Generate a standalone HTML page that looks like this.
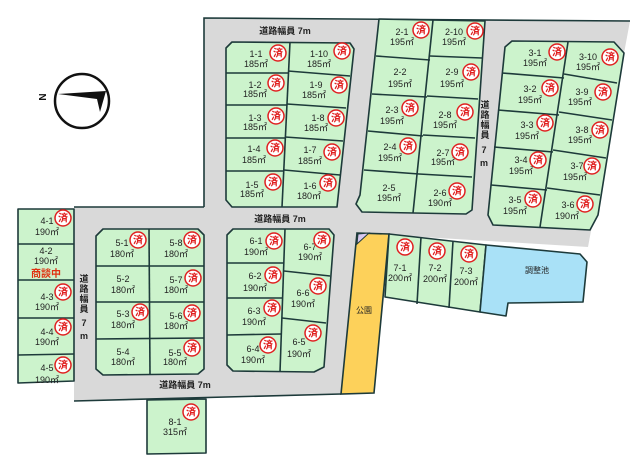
<!DOCTYPE html>
<html><head><meta charset="utf-8"><style>
html,body{margin:0;padding:0;background:#fff;}
svg{display:block;}
text{font-family:"Liberation Sans","Noto Sans CJK JP",sans-serif;}
.l{font-size:9px;fill:#222;text-anchor:middle;}
.r{font-size:9px;fill:#222;text-anchor:middle;font-weight:bold;}
.g{fill:#ccf3cc;stroke:#1d3a3a;stroke-width:1.6;stroke-linejoin:round;}
.ln{stroke:#1d3a3a;stroke-width:1.6;fill:none;}
.st circle{fill:#fff;stroke:#e02020;stroke-width:1.5;}
.st text{font-size:10px;fill:#e02020;text-anchor:middle;font-weight:bold;}
</style></head><body>
<svg width="640" height="462" viewBox="0 0 640 462" xmlns="http://www.w3.org/2000/svg">
<defs>
<g id="s" class="st"><circle cx="0" cy="0" r="8"/><text x="0" y="3.5">済</text></g>
</defs>
<!-- road -->
<polygon points="204,18 630,21 588,247 357,233 341,394 74,401 74,207 204,207" fill="#d9d9d9"/>
<polyline points="204,207 204,18 630,21" class="ln" stroke-width="2"/>
<line x1="74" y1="207" x2="204" y2="207" class="ln" stroke-width="2"/>
<line x1="74" y1="401" x2="341" y2="394" class="ln" stroke-width="2"/>

<!-- compass -->
<circle cx="82" cy="101" r="27" fill="none" stroke="#111" stroke-width="2.5"/>
<polygon points="58,94 106,91 100,112 97,99" fill="#111"/>
<text x="46" y="97" font-size="10" font-weight="bold" fill="#111" text-anchor="middle" transform="rotate(-90 46 97)">N</text>

<!-- road labels -->
<text x="285" y="34" font-size="9" fill="#222" font-weight="bold" text-anchor="middle">道路幅員 7m</text>
<text x="280" y="222" font-size="9" fill="#222" font-weight="bold" text-anchor="middle">道路幅員 7m</text>
<text x="185" y="388" font-size="9" fill="#222" font-weight="bold" text-anchor="middle">道路幅員 7m</text>
<g font-size="9" fill="#222" font-weight="bold" text-anchor="middle">
<text x="485" y="108">道</text><text x="485" y="118">路</text><text x="485" y="128">幅</text><text x="485" y="138">員</text><text x="484" y="153">7</text><text x="484" y="166">m</text>
<text x="84" y="282">道</text><text x="84" y="292">路</text><text x="84" y="302">幅</text><text x="84" y="312">員</text><text x="84" y="326">7</text><text x="84" y="339">m</text>
</g>

<!-- block 1 -->
<polygon class="g" points="232,42 350,43 354,49 337,207 232,207 226,200 226,48"/>
<g class="ln"><line x1="290" y1="42" x2="282" y2="207"/>
<line x1="226" y1="73" x2="288" y2="73"/><line x1="288" y1="71" x2="350" y2="76"/>
<line x1="226" y1="105" x2="287" y2="105"/><line x1="287" y1="104" x2="346" y2="108"/>
<line x1="226" y1="138" x2="285" y2="138"/><line x1="285" y1="137" x2="343" y2="141"/>
<line x1="226" y1="171" x2="284" y2="171"/><line x1="284" y1="170" x2="340" y2="175"/></g>
<!-- block 2 -->
<polygon class="g" points="379,19 485,21 472,210 466,214 362,212 356,204 360,195"/>
<g class="ln"><line x1="433" y1="20" x2="413" y2="213"/>
<line x1="376" y1="56" x2="430" y2="60"/><line x1="430" y1="56" x2="482" y2="58"/>
<line x1="372" y1="94" x2="427" y2="97"/><line x1="427" y1="96" x2="478" y2="99"/>
<line x1="368" y1="131" x2="423" y2="136"/><line x1="423" y1="135" x2="475" y2="138"/>
<line x1="364" y1="170" x2="419" y2="174"/><line x1="419" y1="174" x2="472" y2="177"/></g>
<!-- block 3 -->
<polygon class="g" points="512,41 614,42 624,53 598,215 590,230 493,225 488,215 505,47"/>
<g class="ln"><line x1="568" y1="42" x2="540" y2="227"/>
<line x1="502" y1="73" x2="564" y2="78"/><line x1="564" y1="74" x2="617" y2="83"/>
<line x1="498" y1="110" x2="559" y2="115"/><line x1="559" y1="112" x2="612" y2="120"/>
<line x1="494" y1="147" x2="553" y2="152"/><line x1="553" y1="150" x2="606" y2="158"/>
<line x1="491" y1="185" x2="547" y2="190"/><line x1="547" y1="188" x2="600" y2="195"/></g>
<!-- block 4 -->
<polygon class="g" points="18,209 74,209 74,381 18,383"/>
<g class="ln"><line x1="18" y1="244" x2="74" y2="244"/><line x1="18" y1="280" x2="74" y2="280"/><line x1="18" y1="318" x2="74" y2="318"/><line x1="18" y1="355" x2="74" y2="354"/></g>
<!-- block 5 -->
<polygon class="g" points="103,229 198,229 204,235 204,369 198,374 103,375 96,369 96,236"/>
<g class="ln"><line x1="149" y1="229" x2="150" y2="375"/>
<line x1="96" y1="266" x2="204" y2="266"/><line x1="96" y1="302" x2="204" y2="302"/><line x1="96" y1="339" x2="204" y2="338"/></g>
<!-- block 6 -->
<polygon class="g" points="233,229 329,229 334,235 324,367 314,372 233,371 227,365 227,235"/>
<g class="ln"><line x1="285" y1="229" x2="280" y2="372"/>
<line x1="227" y1="263" x2="284" y2="263"/><line x1="227" y1="298" x2="282" y2="298"/><line x1="227" y1="335" x2="281" y2="334"/>
<line x1="284" y1="271" x2="330" y2="276"/><line x1="282" y1="318" x2="326" y2="323"/></g>
<!-- 8-1 -->
<polygon class="g" points="147,400 206,399 206,453 147,454"/>
<!-- park -->
<polygon points="357,233 389,234 374,393 341,394" fill="#fdd15a" stroke="#1d3a3a" stroke-width="1.6"/>
<polygon points="358,234 369,233 357,244" fill="#d8c8f0" stroke="#1d3a3a" stroke-width="1"/>
<text x="364" y="313" font-size="8" fill="#222" text-anchor="middle">公園</text>
<!-- 7 lots -->
<polygon class="g" points="389,234 486,245 480,312 385,297"/>
<g class="ln"><line x1="421" y1="237" x2="417" y2="304"/><line x1="453" y1="241" x2="449" y2="308"/></g>
<!-- pond -->
<polygon points="486,245 580,254 587,262 583,302 508,303 506,316 480,312" fill="#a9e1f7" stroke="#1d3a3a" stroke-width="1.6" stroke-linejoin="round"/>
<text x="537" y="273" font-size="8" fill="#222" text-anchor="middle">調整池</text>

<!-- labels -->
<g class="l">
<text x="256" y="57">1-1</text><text x="256" y="67">185㎡</text>
<text x="319" y="57">1-10</text><text x="319" y="67">185㎡</text>
<text x="255" y="88">1-2</text><text x="255" y="97">185㎡</text>
<text x="316" y="88">1-9</text><text x="314" y="98">185㎡</text>
<text x="255" y="121">1-3</text><text x="255" y="130">185㎡</text>
<text x="318" y="121">1-8</text><text x="316" y="131">185㎡</text>
<text x="254" y="152">1-4</text><text x="254" y="163">185㎡</text>
<text x="310" y="153">1-7</text><text x="310" y="164">185㎡</text>
<text x="252" y="188">1-5</text><text x="252" y="197">185㎡</text>
<text x="310" y="189">1-6</text><text x="309" y="199">180㎡</text>

<text x="402" y="35">2-1</text><text x="402" y="45">195㎡</text>
<text x="454" y="35">2-10</text><text x="454" y="45">195㎡</text>
<text x="400" y="75">2-2</text><text x="400" y="87">195㎡</text>
<text x="452" y="75">2-9</text><text x="452" y="87">195㎡</text>
<text x="392" y="113">2-3</text><text x="392" y="124">195㎡</text>
<text x="445" y="118">2-8</text><text x="445" y="128">195㎡</text>
<text x="390" y="150">2-4</text><text x="390" y="161">195㎡</text>
<text x="443" y="156">2-7</text><text x="443" y="165">195㎡</text>
<text x="389" y="191">2-5</text><text x="389" y="201">195㎡</text>
<text x="440" y="196">2-6</text><text x="440" y="206">190㎡</text>

<text x="535" y="56">3-1</text><text x="535" y="66">195㎡</text>
<text x="588" y="60">3-10</text><text x="588" y="70">195㎡</text>
<text x="530" y="92">3-2</text><text x="530" y="103">195㎡</text>
<text x="582" y="95">3-9</text><text x="580" y="105">195㎡</text>
<text x="527" y="128">3-3</text><text x="527" y="139">195㎡</text>
<text x="582" y="133">3-8</text><text x="580" y="143">195㎡</text>
<text x="521" y="163">3-4</text><text x="521" y="174">195㎡</text>
<text x="577" y="169">3-7</text><text x="575" y="180">195㎡</text>
<text x="515" y="203">3-5</text><text x="515" y="214">195㎡</text>
<text x="568" y="208">3-6</text><text x="567" y="219">190㎡</text>

<text x="47" y="224">4-1</text><text x="47" y="235">190㎡</text>
<text x="46" y="254">4-2</text><text x="46" y="264">190㎡</text>
<text x="47" y="300">4-3</text><text x="47" y="310">190㎡</text>
<text x="47" y="335">4-4</text><text x="47" y="345">190㎡</text>
<text x="47" y="371">4-5</text><text x="47" y="383">190㎡</text>

<text x="122" y="246">5-1</text><text x="122" y="257">180㎡</text>
<text x="176" y="246">5-8</text><text x="176" y="257">180㎡</text>
<text x="123" y="282">5-2</text><text x="123" y="293">180㎡</text>
<text x="176" y="283">5-7</text><text x="176" y="293">180㎡</text>
<text x="123" y="317">5-3</text><text x="123" y="328">180㎡</text>
<text x="176" y="319">5-6</text><text x="176" y="329">180㎡</text>
<text x="123" y="355">5-4</text><text x="123" y="365">180㎡</text>
<text x="175" y="356">5-5</text><text x="175" y="365">180㎡</text>

<text x="256" y="244">6-1</text><text x="256" y="255">190㎡</text>
<text x="310" y="250">6-7</text><text x="310" y="260">190㎡</text>
<text x="255" y="279">6-2</text><text x="255" y="291">190㎡</text>
<text x="303" y="296">6-6</text><text x="303" y="307">190㎡</text>
<text x="254" y="314">6-3</text><text x="254" y="325">190㎡</text>
<text x="299" y="345">6-5</text><text x="299" y="357">190㎡</text>
<text x="253" y="352">6-4</text><text x="253" y="363">190㎡</text>

<text x="175" y="425">8-1</text><text x="175" y="435">315㎡</text>
<text x="400" y="271">7-1</text><text x="400" y="281">200㎡</text>
<text x="435" y="271">7-2</text><text x="435" y="282">200㎡</text>
<text x="466" y="274">7-3</text><text x="466" y="285">200㎡</text>
</g>
<text x="46" y="277" font-size="10" font-weight="bold" fill="#e03010" text-anchor="middle">商談中</text>

<!-- stamps -->
<use href="#s" x="278" y="53"/><use href="#s" x="342" y="51"/>
<use href="#s" x="276" y="83"/><use href="#s" x="339" y="85"/>
<use href="#s" x="276" y="116"/><use href="#s" x="336" y="118"/>
<use href="#s" x="275" y="148"/><use href="#s" x="332" y="152"/>
<use href="#s" x="273" y="182"/><use href="#s" x="328" y="183"/>
<use href="#s" x="421" y="30"/><use href="#s" x="475" y="31"/>
<use href="#s" x="471" y="72"/>
<use href="#s" x="410" y="108"/><use href="#s" x="465" y="112"/>
<use href="#s" x="408" y="146"/><use href="#s" x="460" y="152"/>
<use href="#s" x="457" y="191"/>
<use href="#s" x="557" y="52"/><use href="#s" x="610" y="57"/>
<use href="#s" x="550" y="88"/><use href="#s" x="603" y="92"/>
<use href="#s" x="545" y="123"/><use href="#s" x="600" y="130"/>
<use href="#s" x="538" y="160"/><use href="#s" x="592" y="166"/>
<use href="#s" x="533" y="199"/><use href="#s" x="585" y="204"/>
<use href="#s" x="63" y="218"/><use href="#s" x="63" y="292"/><use href="#s" x="63" y="327"/><use href="#s" x="63" y="365"/>
<use href="#s" x="138" y="240"/><use href="#s" x="192" y="240"/>
<use href="#s" x="193" y="278"/>
<use href="#s" x="140" y="312"/><use href="#s" x="192" y="313"/>
<use href="#s" x="192" y="348"/>
<use href="#s" x="274" y="241"/><use href="#s" x="322" y="240"/>
<use href="#s" x="273" y="275"/><use href="#s" x="318" y="286"/>
<use href="#s" x="272" y="308"/><use href="#s" x="313" y="333"/>
<use href="#s" x="268" y="345"/>
<use href="#s" x="191" y="412"/>
<use href="#s" x="405" y="247"/><use href="#s" x="437" y="251"/><use href="#s" x="469" y="254"/>
</svg>
</body></html>
